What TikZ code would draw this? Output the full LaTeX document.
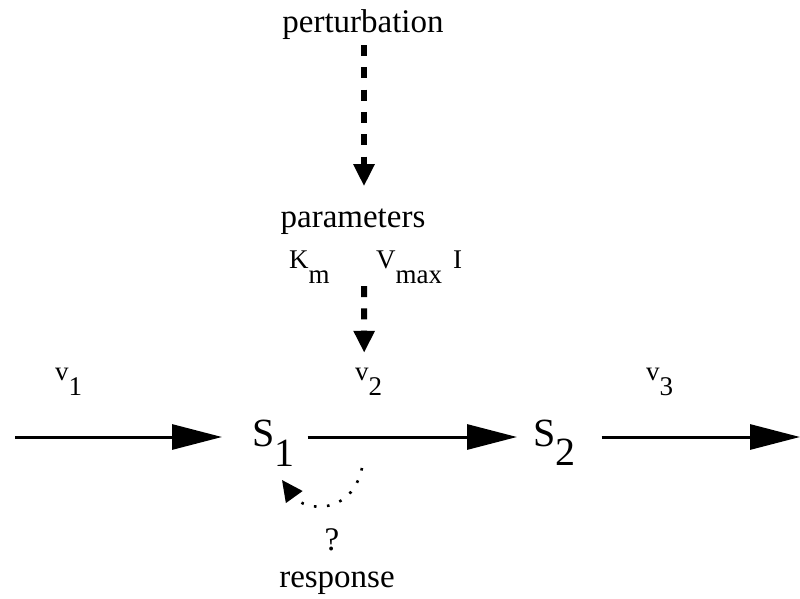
\documentclass[tikz,border=0pt]{standalone}
\usepackage{fontspec}
\setmainfont{Liberation Serif}
\usetikzlibrary{arrows.meta}
\begin{document}
\begin{tikzpicture}[x=1pt,y=-1pt,
  lbl/.style={inner sep=0pt, font=\fontsize{33}{38}\selectfont},
  sym/.style={inner sep=0pt, font=\fontsize{27}{32}\selectfont, anchor=base west},
  met/.style={inner sep=0pt, font=\fontsize{40}{46}\selectfont, anchor=base west},
  flow/.style={line width=3pt, -{Triangle[length=50pt,width=25pt]}},
  dasharr/.style={line width=6pt, dash pattern=on 11pt off 11.3pt, -{Triangle[length=22pt,width=20pt]}},
  dotarr/.style={line width=2.6pt, dash pattern=on 2.6pt off 10.5pt, -{Triangle[length=21pt,width=20pt]}}]
\useasboundingbox (0,0) rectangle (800,599);

\node[lbl, anchor=base] (pert) at (363,33) {perturbation};
\node[lbl, anchor=base] (param) at (353,227) {parameters};
\node[sym] (km) at (289,268) {K\raisebox{-15pt}{m}};
\node[sym] (vmax) at (376,268) {V\raisebox{-15pt}{max}};
\node[sym] (inh) at (453,268) {I};
\node[sym] (v1) at (55,380) {v\raisebox{-15pt}{1}};
\node[sym] (v2) at (355,380) {v\raisebox{-15pt}{2}};
\node[sym] (v3) at (646,380) {v\raisebox{-15pt}{3}};
\node[met] (s1) at (252,446) {S\raisebox{-20pt}{1}};
\node[met] (s2) at (533,446) {S\raisebox{-19pt}{2}};
\node[lbl, anchor=base] (q) at (332,550) {?};
\node[lbl, anchor=base] (resp) at (337,587) {response};

\coordinate (in) at (15,437);
\coordinate (out) at (800,437);
\draw[flow] (in) -- ([shift={(-30,-9)}]s1.base west);
\draw[flow] ([shift={(13,-9)}]s1.base east) -- ([shift={(-16,-9)}]s2.base west);
\draw[flow] ([shift={(26,-9)}]s2.base east) -- (out);

\draw[dasharr] ([shift={(1,4.8)}]pert.south) -- ([shift={(11,-22)}]param.north);
\draw[dasharr] ([shift={(11,51.8)}]param.south) -- ([shift={(-4.5,-14.6)}]v2.north);

\coordinate (fb1) at (362,468);
\coordinate (fb2) at (282,480);
\draw[dotarr] (fb1) .. controls (352,515) and (305,512) .. (fb2);
\end{tikzpicture}
\end{document}
